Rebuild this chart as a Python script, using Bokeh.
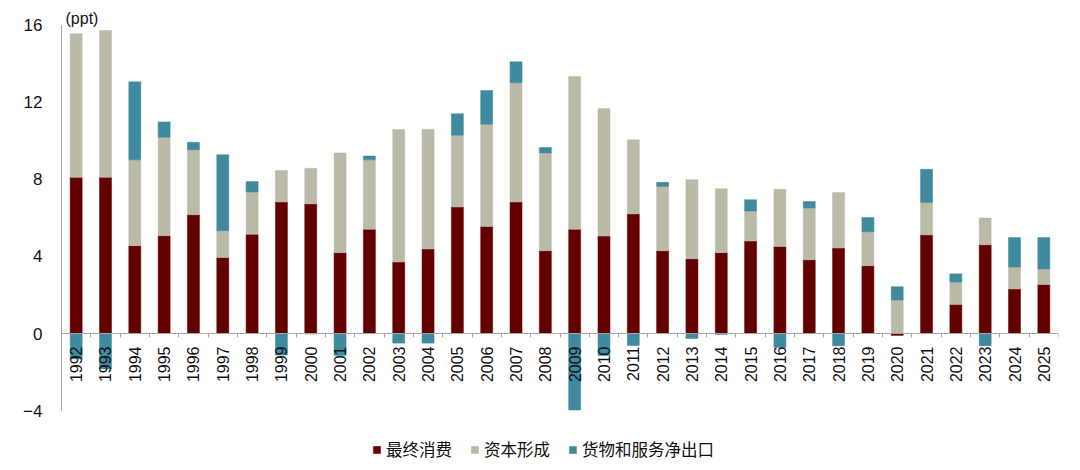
import numpy as np
from bokeh.plotting import figure
from bokeh.models import (ColumnDataSource, FixedTicker, Legend, LegendItem, Label,
                          Range1d)
from bokeh.embed import file_html
from bokeh.resources import INLINE

years = list(range(1992, 2026))
consumption = [8.11, 8.11, 4.56, 5.08, 6.17, 3.95, 5.15, 6.83, 6.73, 4.20,
               5.41, 3.71, 4.39, 6.57, 5.56, 6.83, 4.30, 5.41, 5.06, 6.21,
               4.30, 3.88, 4.20, 4.80, 4.52, 3.83, 4.44, 3.52, -0.10, 5.12,
               1.51, 4.61, 2.31, 2.55]
capital = [7.46, 7.63, 4.46, 5.11, 3.38, 1.39, 2.20, 1.63, 1.85, 5.18,
           3.61, 6.88, 6.22, 3.73, 5.31, 6.19, 5.08, 7.94, 6.62, 3.85,
           3.34, 4.11, 3.32, 1.56, 2.97, 2.69, 2.88, 1.77, 1.74, 1.69,
           1.16, 1.39, 1.14, 0.80]
net_exports = [-1.32, -1.84, 4.05, 0.80, 0.38, 3.94, 0.54, -1.12, -0.02, -1.15,
               0.20, -0.50, -0.50, 1.11, 1.75, 1.09, 0.28, -3.97, -1.15, -0.62,
               0.21, -0.26, -0.05, 0.59, -0.73, 0.33, -0.64, 0.74, 0.69, 1.72,
               0.43, -0.64, 1.53, 1.63]
y_ticks = [-4, 0, 4, 8, 12, 16]
series_names = ["最终消费", "资本形成", "货物和服务净出口"]
colors = ["#650000", "#BBBAA8", "#3F8A9E"]

pos = np.zeros(len(years))
neg = np.zeros(len(years))
stacks = []
for vals in (consumption, capital, net_exports):
    v = np.array(vals, dtype=float)
    bottom = np.where(v >= 0, pos, neg)
    top = bottom + v
    pos = np.where(v >= 0, top, pos)
    neg = np.where(v < 0, top, neg)
    stacks.append((bottom.tolist(), top.tolist()))

# frame spans the whole height; the y axis line is bounded to [-4, 16]
p = figure(width=1072, height=462, output_backend="svg", toolbar_location=None,
           x_range=Range1d(1991.5, 2025.5), y_range=Range1d(-6.70, 16.88),
           min_border_left=61, min_border_right=14, min_border_top=8,
           min_border_bottom=0)
p.outline_line_color = None
p.xgrid.visible = False
p.ygrid.visible = False

renderers = []
for (b, t), c in zip(stacks, colors):
    src = ColumnDataSource(dict(x=years, bottom=b, top=t))
    r = p.vbar(x="x", bottom="bottom", top="top", width=0.41, source=src,
               fill_color=c, line_color=c, line_width=0.5)
    renderers.append(r)

p.yaxis.ticker = FixedTicker(ticks=y_ticks)
p.yaxis.bounds = (-4, 16)
p.yaxis.axis_line_color = "#A6A6A6"
p.yaxis.major_tick_line_color = None
p.yaxis.major_tick_out = 0
p.yaxis.major_tick_in = 0
p.yaxis.minor_tick_line_color = None
p.yaxis.major_label_standoff = 19
p.yaxis.major_label_text_font = "Liberation Sans"
p.yaxis.major_label_text_font_size = "17px"
p.yaxis.major_label_text_color = "#111111"

boundaries = [y - 0.5 for y in years] + [years[-1] + 0.5]
p.xaxis.ticker = FixedTicker(ticks=years, minor_ticks=boundaries)
p.xaxis.fixed_location = 0
p.xaxis.axis_line_color = "#A6A6A6"
p.xaxis.major_tick_line_color = None
p.xaxis.major_tick_out = 0
p.xaxis.major_tick_in = 0
p.xaxis.minor_tick_line_color = "#A6A6A6"
p.xaxis.minor_tick_out = 4
p.xaxis.minor_tick_in = 0
p.xaxis.major_label_orientation = np.pi / 2
p.xaxis.major_label_standoff = 9
p.xaxis.major_label_text_font = "Liberation Sans"
p.xaxis.major_label_text_font_size = "16px"
p.xaxis.major_label_text_color = "#111111"

p.add_layout(Label(x=1991.5, y=16, x_offset=4, y_offset=7, text="(ppt)",
                   text_baseline="middle", text_font="Liberation Sans",
                   text_font_size="16px", text_color="#111111"))

legend = Legend(items=[LegendItem(label=n, renderers=[r]) for n, r in zip(series_names, renderers)],
                orientation="horizontal", location=(311, 1),
                glyph_width=9, glyph_height=9, label_standoff=5, spacing=18,
                label_text_font="Noto Sans CJK SC", label_text_font_size="16.5px",
                label_text_color="#111111", border_line_color=None,
                background_fill_alpha=0, padding=2, margin=0)
p.add_layout(legend, "center")

open("out.html", "w").write(file_html(p, INLINE))
